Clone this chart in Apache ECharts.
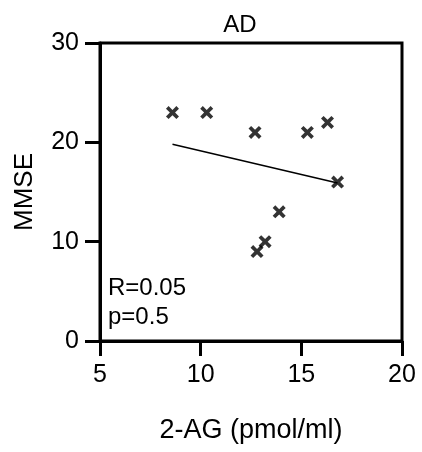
<!DOCTYPE html>
<html>
<head>
<meta charset="utf-8">
<script src="https://cdn.jsdelivr.net/npm/echarts@6/dist/echarts.min.js"></script>
<style>
  html, body { margin: 0; padding: 0; background: #fff; }
  #main { width: 422px; height: 452px; }
</style>
</head>
<body>
<div id="main"></div>
<script>
const main = document.getElementById('main')
var myChart = echarts.init(main)

// 2-AG (pmol/ml) vs MMSE
const xValues = [8.6, 10.3, 12.7, 15.3, 16.3, 16.8, 13.9, 13.2, 12.8]
const yValues = [23, 23, 21, 21, 22, 16, 13, 10, 9]
// fitted line ends
const fitX = [8.6, 16.8]
const fitY = [19.8, 15.9]

const points = xValues.map((x, i) => [x, yValues[i]])
const fitLine = fitX.map((x, i) => [x, fitY[i]])

const font = 'Liberation Sans, Arial, sans-serif'
const cross = 'path://M0,2 L2,0 L5,3 L8,0 L10,2 L7,5 L10,8 L8,10 L5,7 L2,10 L0,8 L3,5 Z'

myChart.setOption({
    animation: false,
    title: {
        text: 'AD',
        left: 235,
        top: 8,
        textAlign: 'center',
        textStyle: { fontFamily: font, fontSize: 24, fontWeight: 'normal', color: '#000' }
    },
    grid: {
        left: 100, right: 20, top: 43, bottom: 111,
        outerBoundsMode: 'none',
        containLabel: false,
        show: true, borderColor: '#000', borderWidth: 3
    },
    xAxis: {
        type: 'value',
        min: 5, max: 20, interval: 5,
        name: '2-AG (pmol/ml)',
        nameLocation: 'middle',
        nameGap: 76,
        nameTextStyle: { fontFamily: font, fontSize: 27, color: '#000' },
        splitLine: { show: false },
        axisLine: { show: true, lineStyle: { color: '#000', width: 3 } },
        axisTick: { show: true, length: 15, lineStyle: { color: '#000', width: 3 } },
        axisLabel: { margin: 22, fontFamily: font, fontSize: 25, color: '#000' }
    },
    yAxis: {
        type: 'value',
        min: 0, max: 30, interval: 10,
        name: 'MMSE',
        nameLocation: 'middle',
        nameGap: 62,
        nameTextStyle: { fontFamily: font, fontSize: 26, color: '#000' },
        splitLine: { show: false },
        axisLine: { show: true, lineStyle: { color: '#000', width: 3 } },
        axisTick: { show: true, length: 15, lineStyle: { color: '#000', width: 3 } },
        axisLabel: { margin: 21, fontFamily: font, fontSize: 25, color: '#000' }
    },
    graphic: [
        { type: 'text', left: 108, top: 276, style: { text: 'R=0.05', font: '24px ' + font, fill: '#000' } },
        { type: 'text', left: 108, top: 305, style: { text: 'p=0.5', font: '24px ' + font, fill: '#000' } }
    ],
    series: [
        {
            type: 'line',
            data: fitLine,
            symbol: 'none',
            lineStyle: { color: '#000', width: 1.5 },
            z: 1
        },
        {
            type: 'scatter',
            data: points,
            symbol: cross,
            symbolSize: 13,
            itemStyle: { color: '#000' },
            z: 2
        }
    ]
})
</script>
</body>
</html>
